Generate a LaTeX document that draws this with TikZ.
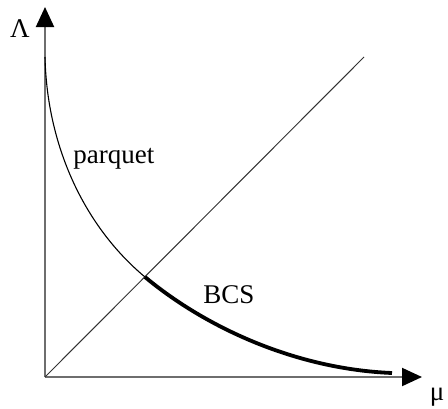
\documentclass[tikz,border=0pt]{standalone}
\usepackage{fontspec}
\newfontfamily\labelfont{Liberation Serif}
\usetikzlibrary{arrows.meta}
\definecolor{axisgray}{HTML}{6E6E6E}
\definecolor{diaggray}{HTML}{333333}

\begin{document}
\begin{tikzpicture}[x=0.5pt, y=0.5pt,
    axisline/.style={axisgray, line width=1pt, -{Triangle[length=10pt, width=9pt, black]}},
    every node/.style={font=\labelfont\fontsize{13.5}{16}\selectfont, inner sep=0pt}]
  \useasboundingbox (-45,-31) rectangle (403,377);
  \coordinate (O) at (0,0);
  \coordinate (ytip) at (0,370);
  \coordinate (xtip) at (377,0);
  \coordinate (diagend) at (319,320);
  \coordinate (top) at (0,320);
  \coordinate (cross) at (100,100);
  \coordinate (tail) at (347,4);
  % axes
  \draw[axisline] (O) -- (ytip);
  \draw[axisline] (O) -- (xtip);
  % diagonal
  \draw[diaggray, line width=0.5pt] (O) -- (diagend);
  % parquet branch (thin)
  \draw[black, line width=0.55pt] (top) .. controls (2,230) and (40,150) .. (cross);
  % BCS branch (thick)
  \draw[black, line width=1.9pt] (cross) .. controls (160,50) and (250,8) .. (tail);
  % labels
  \node[anchor=base] (lamlabel) at (-25,340) {Λ};
  \node[anchor=base] (mulabel) at (392,-23) {μ};
  \node[anchor=base west] (parquetlabel) at (28,214) {parquet};
  \node[anchor=base west] (bcslabel) at (158,74) {BCS};
\end{tikzpicture}
\end{document}
